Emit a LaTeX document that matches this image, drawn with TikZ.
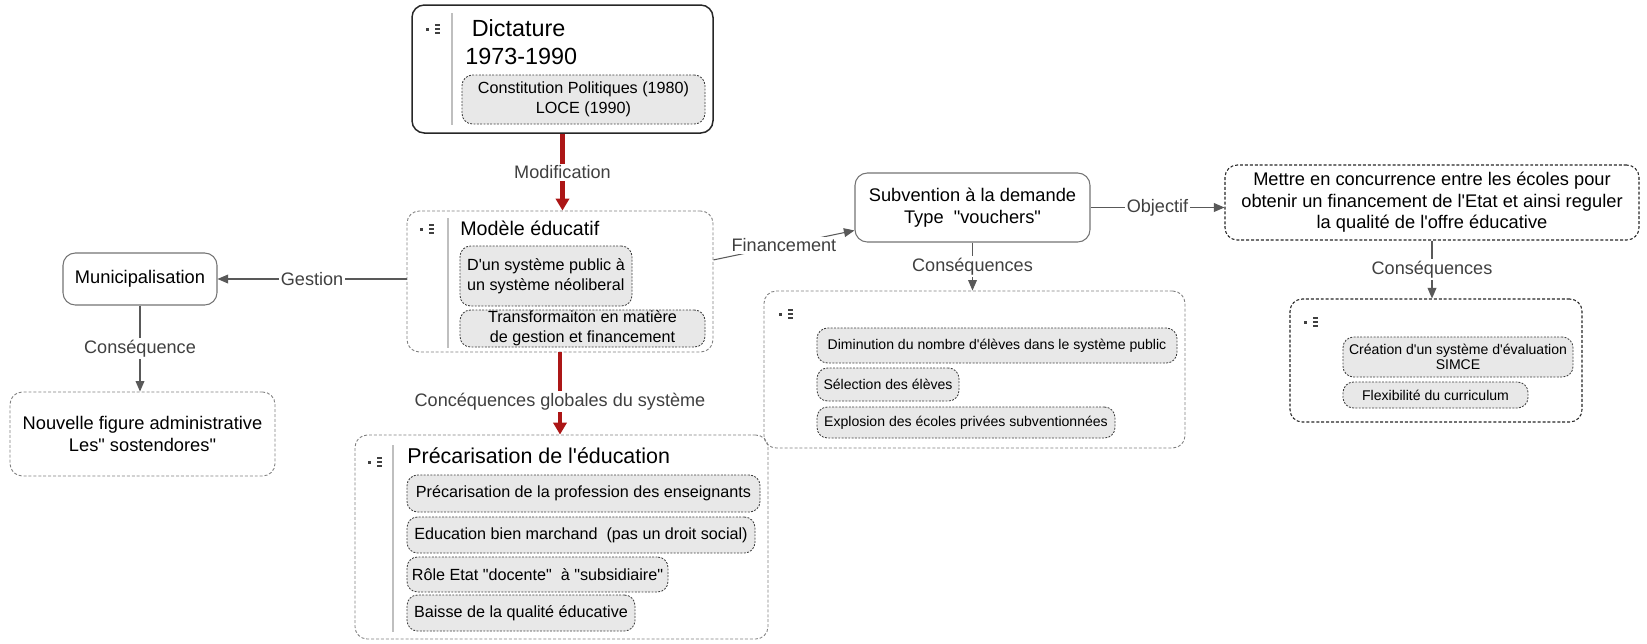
\documentclass[tikz,border=0pt]{standalone}
\usepackage{fontspec}
\setmainfont{Liberation Sans}
\usetikzlibrary{arrows.meta}
\usetikzlibrary{fit}
\definecolor{linkred}{RGB}{172,22,22}
\newcommand{\sqt}{\textquotesingle}
\newcommand{\dqt}{\textquotedbl}
\newcommand{\noteicon}[2]{%
  \fill[black!75] (#1,#2) rectangle ++(3,3);
  \foreach \k in {-4,0,4}
    \fill[black!75] (#1+9,#2+\k) rectangle ++(5,1.6);
}
\tikzset{
  boxsize/.style 2 args={minimum width=#1*0.02cm, minimum height=#2*0.02cm},
  mainbox/.style={draw=black!85, line width=0.85pt, rounded corners=7pt, inner sep=0pt},
  plainbox/.style={draw=black!55, line width=0.6pt, rounded corners=7pt, inner sep=0pt, align=center},
  softbox/.style={draw=black!50, line width=0.5pt, dash pattern=on 1.7pt off 1.1pt, rounded corners=7pt, inner sep=0pt, align=center},
  hardbox/.style={draw=black!85, line width=0.6pt, dash pattern=on 1.7pt off 1.1pt, rounded corners=7pt, inner sep=0pt, align=center},
  itembox/.style={draw=black!75, fill=black!9, line width=0.5pt, dash pattern=on 1.1pt off 0.8pt, rounded corners=6pt, inner sep=0pt, align=center},
  sepline/.style={draw=black!25, line width=0.6pt},
  link/.style={draw=black!65, line width=0.6pt, -{Triangle[width=5pt,length=6pt]}},
  redlink/.style={draw=linkred, line width=2.3pt, -{Triangle[width=7.5pt,length=6.8pt]}},
  linklbl/.style={fill=white, text=black!75, inner sep=1pt, font=\fontsize{10.3}{12}\selectfont},
  bigtxt/.style={inner sep=0pt, anchor=base west, font=\fontsize{13.3}{15}\selectfont},
  titletxt/.style={inner sep=0pt, anchor=base west, font=\fontsize{12.2}{14}\selectfont},
  headtxt/.style={inner sep=0pt, anchor=base west, font=\fontsize{11.2}{13}\selectfont},
  nodetxt/.style={font=\fontsize{10.4}{12.2}\selectfont},
  itemtxt/.style={font=\fontsize{9.2}{11.4}\selectfont},
  smalltxt/.style={font=\fontsize{8}{8.4}\selectfont}
}

\begin{document}
\begin{tikzpicture}[x=0.02cm,y=-0.02cm]
\useasboundingbox (0,0) rectangle (1647,643);

% Dictature
\node[mainbox, fit={(412,5) (713,133)}] (dict) {};
\noteicon{426}{28}
\draw[sepline] (452,13) -- (452,125);
\node[bigtxt] (dicttitle) at (465,36) {\ Dictature};
\node[bigtxt] (dictyears) at (465,64) {1973-1990};
\node[itembox, itemtxt, boxsize={243}{49}] (dictnote) at (583.5,99.5) {Constitution Politiques (1980)\\LOCE (1990)};

% Modele educatif
\node[softbox, fit={(407,211) (713,352)}] (modele) {};
\noteicon{420}{228}
\draw[sepline] (448,218) -- (448,348);
\node[headtxt] (modeletitle) at (460,235) {Modèle éducatif};
\node[itembox, itemtxt, align=left, boxsize={172}{60}] (modelenote1) at (546,276) {D\sqt{}un système public à\\un système néoliberal};
\node[itembox, itemtxt, boxsize={245}{37}] (modelenote2) at (582.5,328.5) {Transformaiton en matière\\de gestion et financement};

% Precarisation
\node[softbox, fit={(355,435) (768,639)}] (precar) {};
\noteicon{368}{461}
\draw[sepline] (393,445) -- (393,632);
\node[titletxt] (precartitle) at (407,463) {Précarisation de l\sqt{}éducation};
\node[itembox, itemtxt, boxsize={353}{37}] (precar1) at (583.5,493.5) {Précarisation de la profession des enseignants};
\node[itembox, itemtxt, boxsize={348}{36}] (precar2) at (581,535) {Education bien marchand\ \ (pas un droit social)};
\node[itembox, itemtxt, boxsize={261}{35}] (precar3) at (537.5,574.5) {Rôle Etat \dqt{}docente\dqt{}\ \ à \dqt{}subsidiaire\dqt{}};
\node[itembox, itemtxt, boxsize={228}{36}] (precar4) at (521,613) {Baisse de la qualité éducative};

% gauche
\node[plainbox, nodetxt, boxsize={154}{52}] (muni) at (140,279) {Municipalisation};
\node[softbox, nodetxt, boxsize={265}{84}] (figure) at (142.5,434) {Nouvelle figure administrative\\Les\dqt{} sostendores\dqt{}};

% droite
\node[plainbox, nodetxt, boxsize={235}{69}] (subv) at (972.5,207.5) {Subvention à la demande\\Type\ \ \dqt{}vouchers\dqt{}};
\node[hardbox, nodetxt, boxsize={414}{75}] (mettre) at (1432,202.5) {Mettre en concurrence entre les écoles pour\\obtenir un financement de l\sqt{}Etat et ainsi reguler\\la qualité de l\sqt{}offre éducative};

\node[softbox, fit={(764,291) (1185,448)}] (effets) {};
\noteicon{779}{313}
\node[itembox, smalltxt, boxsize={360}{35}] (effet1) at (997,345.5) {Diminution du nombre d\sqt{}élèves dans le système public};
\node[itembox, smalltxt, boxsize={142}{33}] (effet2) at (888,384.5) {Sélection des élèves};
\node[itembox, smalltxt, boxsize={298}{31}] (effet3) at (966,422.5) {Explosion des écoles privées subventionnées};

\node[hardbox, fit={(1290,299) (1582,422)}] (objets) {};
\noteicon{1304}{321}
\node[itembox, smalltxt, boxsize={230}{40}] (objet1) at (1458,357) {Création d\sqt{}un système d\sqt{}évaluation\\SIMCE};
\node[itembox, smalltxt, boxsize={185}{26}] (objet2) at (1435.5,395) {Flexibilité du curriculum};

% liens
\draw[redlink] (dict.south) -- node[linklbl]{Modification} (dict.south |- modele.north);
\draw[redlink] (modele.south) -- node[linklbl, pos=0.6]{Concéquences globales du système} (modele.south |- precar.north);
\draw[link] (modele.west |- muni.east) -- node[linklbl]{Gestion} (muni.east);
\draw[link] (muni.south) -- node[linklbl]{Conséquence} (muni.south |- figure.north);
\draw[link] (modele.8) -- node[linklbl]{Financement} (subv.191);
\draw[link] (subv.east) -- node[linklbl]{Objectif} (subv.east -| mettre.west);
\draw[link] (subv.south) -- node[linklbl]{Conséquences} (subv.south |- effets.north);
\draw[link] (mettre.south) -- node[linklbl]{Conséquences} (mettre.south |- objets.north);
\end{tikzpicture}
\end{document}
